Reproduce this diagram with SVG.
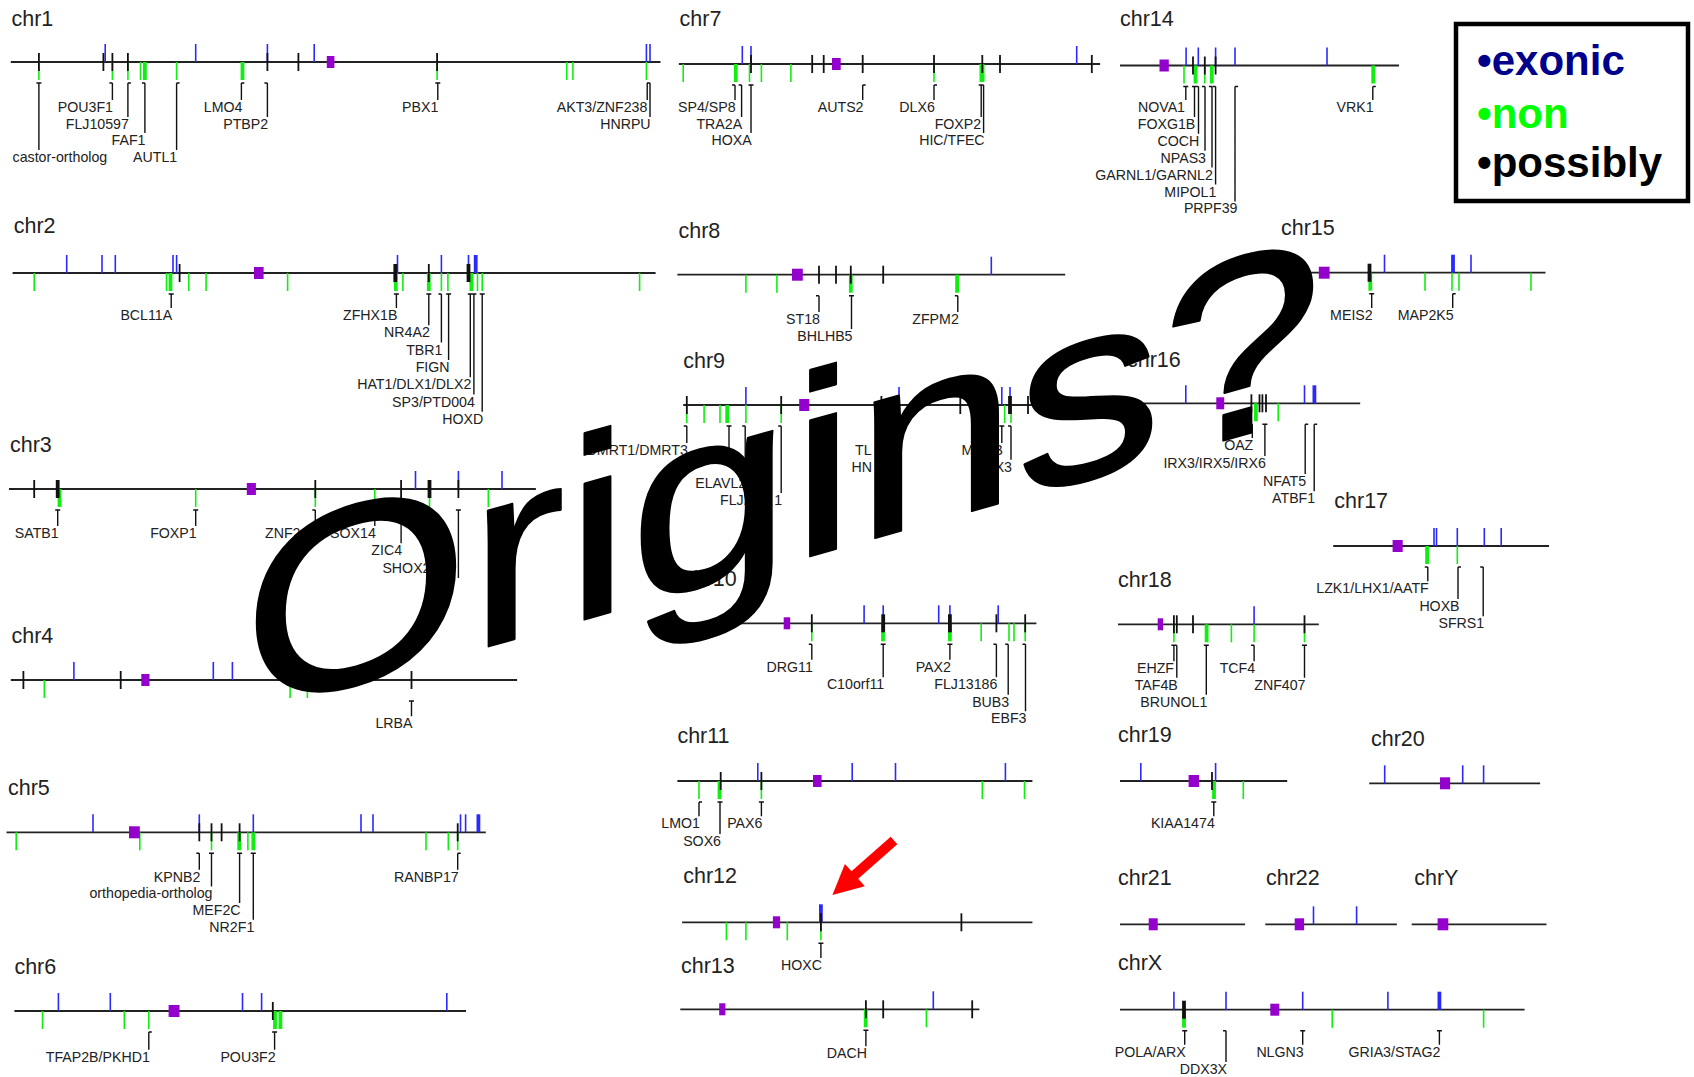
<svg xmlns="http://www.w3.org/2000/svg" width="1694" height="1077" viewBox="0 0 1694 1077">
<style>
.ax{stroke:#222;stroke-width:1.8}
g.e{stroke:#2a2aff;stroke-width:1.6}
g.n{stroke:#11ee11;stroke-width:1.6}
g.p{stroke:#111;stroke-width:1.8}
use.w{stroke-width:3.8}
.cm{fill:#9400cc}
.cn{stroke:#111;stroke-width:1.4;fill:none}
text{font-family:"Liberation Sans",Arial,Helvetica,sans-serif}
.t{font-size:21.5px;fill:#222}
.l{font-size:14.2px;fill:#222;text-anchor:end}
.s{text-anchor:start}
.big{font-size:257px;fill:#000;stroke:#000;stroke-width:2.2;stroke-linejoin:round}
.lg{font-size:42px;font-weight:bold}
</style>
<defs>
<path id="e" d="M0-18V0"/>
<path id="n" d="M0 0V18"/>
<path id="p" d="M0-9V9"/>
</defs>
<rect width="1694" height="1077" fill="#fff"/>

<g id="chromosomes">
<!-- chr1 -->
<g id="chr1" transform="translate(0,62)">
<text class="t" x="11.5" y="-36">chr1</text>
<line class="ax" x1="10.8" x2="660.5"/>
<g class="n"><use href="#n" x="38.9"/><use href="#n" x="112.4"/><use href="#n" x="127.9"/><use href="#n" x="140.5"/><use href="#n" x="176.6"/><use href="#n" x="437.1"/><use href="#n" x="566.8"/><use href="#n" x="572.9"/><use href="#n" x="646.4"/><use class="w" href="#n" x="144.9"/><use class="w" href="#n" x="242.5"/></g>
<g class="e"><use href="#e" x="105.2"/><use href="#e" x="195.7"/><use href="#e" x="267.4"/><use href="#e" x="314.2"/><use href="#e" x="646.4"/><use href="#e" x="650"/></g>
<g class="p"><use href="#p" x="38.9"/><use href="#p" x="103.4"/><use href="#p" x="112.4"/><use href="#p" x="127.9"/><use href="#p" x="267.4"/><use href="#p" x="298.4"/><use href="#p" x="437.1"/></g>
<rect class="cm" x="326.8" y="-6" width="7.6" height="12"/>
<text class="l s" x="12.6" y="100">castor-ortholog</text>
<text class="l" x="113" y="50">POU3F1</text>
<text class="l" x="128.9" y="67">FLJ10597</text>
<text class="l" x="145.5" y="83">FAF1</text>
<text class="l" x="177.2" y="100">AUTL1</text>
<text class="l" x="242.4" y="50">LMO4</text>
<text class="l" x="268.2" y="67">PTBP2</text>
<text class="l" x="438.4" y="50">PBX1</text>
<text class="l" x="647.4" y="50">AKT3/ZNF238</text>
<text class="l" x="650.6" y="67">HNRPU</text>
</g>

<!-- chr7 -->
<g id="chr7" transform="translate(0,64)">
<text class="t" x="679.6" y="-38">chr7</text>
<line class="ax" x1="678.9" x2="1100.1"/>
<g class="n"><use href="#n" x="683.2"/><use href="#n" x="749.5"/><use href="#n" x="761.4"/><use href="#n" x="790.9"/><use href="#n" x="934"/><use class="w" href="#n" x="735.8"/><use class="w" href="#n" x="982" style="stroke-width:5"/></g>
<g class="e"><use href="#e" x="742.3"/><use href="#e" x="751"/><use href="#e" x="1076.7"/></g>
<g class="p"><use href="#p" x="751"/><use href="#p" x="812.2"/><use href="#p" x="823.7"/><use href="#p" x="862.7"/><use href="#p" x="934"/><use href="#p" x="982.3"/><use href="#p" x="1000"/><use href="#p" x="1091.8"/></g>
<rect class="cm" x="832" y="-6" width="8.7" height="12"/>
<text class="l" x="735.6" y="48">SP4/SP8</text>
<text class="l" x="742.2" y="65">TRA2A</text>
<text class="l" x="751.8" y="81">HOXA</text>
<text class="l" x="863.5" y="48">AUTS2</text>
<text class="l" x="934.8" y="48">DLX6</text>
<text class="l" x="981.2" y="65">FOXP2</text>
<text class="l" x="984.6" y="81">HIC/TFEC</text>
</g>

<!-- chr14 -->
<g id="chr14" transform="translate(0,65.5)">
<text class="t" x="1120" y="-39.5">chr14</text>
<line class="ax" x1="1120" x2="1399"/>
<g class="n"><use href="#n" x="1184"/><use href="#n" x="1204.8"/><use class="w" href="#n" x="1195.5"/><use class="w" href="#n" x="1211.8"/><use class="w" href="#n" x="1373.2"/></g>
<g class="e"><use href="#e" x="1186.1"/><use href="#e" x="1198.3"/><use href="#e" x="1215.6"/><use href="#e" x="1235"/><use href="#e" x="1327"/></g>
<g class="p"><use href="#p" x="1193"/><use href="#p" x="1204.8"/><use href="#p" x="1215.6"/></g>
<rect class="cm" x="1159.5" y="-6" width="9.3" height="12"/>
<text class="l" x="1185" y="46.5">NOVA1</text>
<text class="l" x="1195.3" y="63.4">FOXG1B</text>
<text class="l" x="1199.2" y="80.3">COCH</text>
<text class="l" x="1206" y="97.2">NPAS3</text>
<text class="l" x="1212.8" y="114.1">GARNL1/GARNL2</text>
<text class="l" x="1216.4" y="131">MIPOL1</text>
<text class="l" x="1237.5" y="147.9">PRPF39</text>
<text class="l" x="1373.6" y="46.5">VRK1</text>
</g>

<!-- chr2 -->
<g id="chr2" transform="translate(0,273)">
<text class="t" x="13.7" y="-40">chr2</text>
<line class="ax" x1="12.6" x2="655.6"/>
<g class="n"><use href="#n" x="34.2"/><use href="#n" x="166.5"/><use href="#n" x="188.8"/><use href="#n" x="206.1"/><use href="#n" x="287.6"/><use href="#n" x="402.9"/><use href="#n" x="441.4"/><use href="#n" x="447.9"/><use href="#n" x="477.5"/><use href="#n" x="482.2"/><use href="#n" x="639.6"/><use class="w" href="#n" x="170.5"/><use class="w" href="#n" x="395.8"/><use class="w" href="#n" x="428.8"/><use class="w" href="#n" x="471.4"/></g>
<g class="e"><use href="#e" x="66.7"/><use href="#e" x="102"/><use href="#e" x="115.3"/><use href="#e" x="173"/><use href="#e" x="176.6"/><use href="#e" x="397.5"/><use href="#e" x="441.4"/><use href="#e" x="468.5"/><use class="w" href="#e" x="475.7"/></g>
<g class="p"><use href="#p" x="179.6"/><use href="#p" x="428.8"/><use class="w" href="#p" x="395.3"/><use class="w" href="#p" x="468.5"/></g>
<rect class="cm" x="254" y="-6" width="9.6" height="12"/>
<text class="l" x="172.2" y="47">BCL11A</text>
<text class="l" x="397.4" y="47">ZFHX1B</text>
<text class="l" x="429.8" y="64.3">NR4A2</text>
<text class="l" x="442.4" y="81.6">TBR1</text>
<text class="l" x="449.6" y="98.9">FIGN</text>
<text class="l" x="471.3" y="116.2">HAT1/DLX1/DLX2</text>
<text class="l" x="474.9" y="133.5">SP3/PTD004</text>
<text class="l" x="483.2" y="150.8">HOXD</text>
</g>

<!-- chr3 -->
<g id="chr3" transform="translate(0,489)">
<text class="t" x="10" y="-37.3">chr3</text>
<line class="ax" x1="9" x2="535.9"/>
<g class="n"><use href="#n" x="195.7"/><use href="#n" x="315.3"/><use href="#n" x="374.8"/><use href="#n" x="429.5"/><use href="#n" x="488.3"/><use class="w" href="#n" x="59.5"/></g>
<g class="e"><use href="#e" x="415.5"/><use href="#e" x="458.4"/><use href="#e" x="502"/></g>
<g class="p"><use href="#p" x="34.2"/><use href="#p" x="315.3"/><use href="#p" x="401.1"/><use href="#p" x="458.4"/><use class="w" href="#p" x="57.7"/><use class="w" href="#p" x="429.5"/></g>
<rect class="cm" x="246.8" y="-6" width="9.1" height="12"/>
<text class="l" x="58.7" y="49">SATB1</text>
<text class="l" x="196.7" y="49">FOXP1</text>
<text class="l s" x="265" y="49">ZNF2</text>
<text class="l" x="375.8" y="49">SOX14</text>
<text class="l" x="402.1" y="66.3">ZIC4</text>
<text class="l" x="430.5" y="83.6">SHOX2</text>
</g>

<!-- chr4 -->
<g id="chr4" transform="translate(0,680)">
<text class="t" x="11.5" y="-37.3">chr4</text>
<line class="ax" x1="10.8" x2="517.1"/>
<g class="n"><use href="#n" x="44.3"/><use href="#n" x="290.1"/><use href="#n" x="307.4"/></g>
<g class="e"><use href="#e" x="73.9"/><use href="#e" x="213.3"/><use href="#e" x="232.4"/></g>
<g class="p"><use href="#p" x="23.4"/><use href="#p" x="120.7"/><use href="#p" x="411.5"/></g>
<rect class="cm" x="141.3" y="-6" width="8.2" height="12"/>
<text class="l" x="412.5" y="48.3">LRBA</text>
</g>

<!-- chr5 -->
<g id="chr5" transform="translate(0,832.3)">
<text class="t" x="8" y="-37.3">chr5</text>
<line class="ax" x1="6.5" x2="485.8"/>
<g class="n"><use href="#n" x="16.2"/><use href="#n" x="139.8"/><use href="#n" x="211.5"/><use href="#n" x="247.9"/><use href="#n" x="426"/><use href="#n" x="448.3"/><use href="#n" x="457.7"/><use class="w" href="#n" x="239.2"/><use class="w" href="#n" x="253.3"/></g>
<g class="e"><use href="#e" x="93"/><use href="#e" x="199.3"/><use href="#e" x="253.3"/><use href="#e" x="361"/><use href="#e" x="373"/><use href="#e" x="460.5"/><use href="#e" x="465.6"/><use class="w" href="#e" x="478.4"/></g>
<g class="p"><use href="#p" x="199.3"/><use href="#p" x="211.5"/><use href="#p" x="221.6"/><use href="#p" x="239.6"/><use href="#p" x="457.7"/></g>
<rect class="cm" x="129" y="-6" width="10.8" height="12"/>
<text class="l" x="200.3" y="49.4">KPNB2</text>
<text class="l" x="212.5" y="66.1">orthopedia-ortholog</text>
<text class="l" x="240.6" y="82.8">MEF2C</text>
<text class="l" x="254.3" y="99.5">NR2F1</text>
<text class="l" x="458.7" y="49.4">RANBP17</text>
</g>

<!-- chr6 -->
<g id="chr6" transform="translate(0,1011)">
<text class="t" x="14.4" y="-36.7">chr6</text>
<line class="ax" x1="14.4" x2="466"/>
<g class="n"><use href="#n" x="42.5"/><use href="#n" x="124.3"/><use href="#n" x="148.8"/><use class="w" href="#n" x="275"/><use class="w" href="#n" x="280.4"/></g>
<g class="e"><use href="#e" x="58.4"/><use href="#e" x="110.3"/><use href="#e" x="242.5"/><use href="#e" x="261.6"/><use href="#e" x="446.8"/></g>
<g class="p"><use href="#p" x="272.8"/></g>
<rect class="cm" x="168.6" y="-6" width="10.9" height="12"/>
<text class="l" x="149.8" y="50.7">TFAP2B/PKHD1</text>
<text class="l" x="275.6" y="50.7">POU3F2</text>
</g>

<!-- chr8 -->
<g id="chr8" transform="translate(0,274.7)">
<text class="t" x="678.5" y="-36.4">chr8</text>
<line class="ax" x1="677.4" x2="1065.2"/>
<g class="n"><use href="#n" x="745.9"/><use href="#n" x="776.9"/><use class="w" href="#n" x="850.8"/><use class="w" href="#n" x="957.1"/></g>
<g class="e"><use href="#e" x="991.3"/></g>
<g class="p"><use href="#p" x="819"/><use href="#p" x="836"/><use href="#p" x="850.8"/><use href="#p" x="883.2"/></g>
<rect class="cm" x="792" y="-6" width="10.8" height="12"/>
<text class="l" x="820" y="49.3">ST18</text>
<text class="l" x="852.5" y="66.3">BHLHB5</text>
<text class="l" x="958.8" y="49.3">ZFPM2</text>
</g>

<!-- chr9 -->
<g id="chr9" transform="translate(0,405)">
<text class="t" x="683.2" y="-36.7">chr9</text>
<line class="ax" x1="683.2" x2="1100"/>
<g class="n"><use href="#n" x="686.8"/><use href="#n" x="704.1"/><use href="#n" x="720"/><use href="#n" x="745.9"/><use href="#n" x="781.2"/><use href="#n" x="1004.6"/><use href="#n" x="1011"/><use class="w" href="#n" x="727.2"/></g>
<g class="e"><use href="#e" x="745.9"/><use href="#e" x="899"/><use href="#e" x="1001.8"/><use href="#e" x="1010"/></g>
<g class="p"><use href="#p" x="686.8"/><use href="#p" x="781.2"/><use href="#p" x="881.4"/><use href="#p" x="960.3"/><use href="#p" x="1028"/><use class="w" href="#p" x="1010"/></g>
<rect class="cm" x="799.2" y="-6" width="10.1" height="12"/>
<text class="l" x="687.8" y="50">DMRT1/DMRT3</text>
<text class="l" x="746.2" y="83.4">ELAVL2</text>
<text class="l s" x="720" y="100.1">FLJ2</text>
<text class="l" x="782.2" y="100.1">1</text>
<text class="l s" x="855" y="50">TL</text>
<text class="l s" x="851.5" y="66.7">HN</text>
<text class="l s" x="961.4" y="50">M</text>
<text class="l" x="1003" y="50">B</text>
<text class="l" x="1012" y="66.7">X3</text>
</g>

<!-- chr16 -->
<g id="chr16" transform="translate(0,403.3)">
<text class="t" x="1127" y="-36.6">chr16</text>
<line class="ax" x1="1120" x2="1360.2"/>
<g class="n"><use href="#n" x="1278.2"/><use class="w" href="#n" x="1255.9"/></g>
<g class="e"><use href="#e" x="1185.8"/><use href="#e" x="1304.5"/><use class="w" href="#e" x="1314.4"/></g>
<g class="p"><use href="#p" x="1251.4"/><use href="#p" x="1259.5"/><use href="#p" x="1262.4"/><use href="#p" x="1266"/></g>
<rect class="cm" x="1216.3" y="-6" width="7.9" height="12"/>
<text class="l" x="1253.3" y="46.7">OAZ</text>
<text class="l" x="1265.9" y="64.7">IRX3/IRX5/IRX6</text>
<text class="l" x="1306.2" y="82.7">NFAT5</text>
<text class="l" x="1315.2" y="100">ATBF1</text>
</g>

<!-- chr15 -->
<g id="chr15" transform="translate(0,272.7)">
<text class="t" x="1281" y="-37.7">chr15</text>
<line class="ax" x1="1281" x2="1545.5"/>
<g class="n"><use href="#n" x="1425"/><use href="#n" x="1452"/><use href="#n" x="1459"/><use href="#n" x="1531"/><use class="w" href="#n" x="1370.3"/></g>
<g class="e"><use href="#e" x="1384.5"/><use href="#e" x="1471"/><use class="w" href="#e" x="1453"/></g>
<g class="p"><use class="w" href="#p" x="1369.5"/></g>
<rect class="cm" x="1318.8" y="-6" width="10.8" height="12"/>
<text class="l" x="1372.7" y="47.3">MEIS2</text>
<text class="l" x="1453.7" y="47.3">MAP2K5</text>
</g>

<!-- chr17 -->
<g id="chr17" transform="translate(0,546)">
<text class="t" x="1334.3" y="-37.7">chr17</text>
<line class="ax" x1="1333.2" x2="1549"/>
<g class="n"><use href="#n" x="1457.3"/><use class="w" href="#n" x="1427.1"/></g>
<g class="e"><use href="#e" x="1434"/><use href="#e" x="1436.5"/><use href="#e" x="1457.3"/><use href="#e" x="1484.3"/><use href="#e" x="1501.2"/></g>
<rect class="cm" x="1392.6" y="-6" width="10.1" height="12"/>
<text class="l" x="1428.8" y="47.3">LZK1/LHX1/AATF</text>
<text class="l" x="1459.6" y="65">HOXB</text>
<text class="l" x="1484.2" y="82.3">SFRS1</text>
</g>

<!-- chr10 -->
<g id="chr10" transform="translate(0,623.3)">
<text class="t" x="683" y="-37">chr10</text>
<line class="ax" x1="680" x2="1036.4"/>
<g class="n"><use href="#n" x="811.8"/><use href="#n" x="981.2"/><use href="#n" x="1009"/><use href="#n" x="1014"/><use href="#n" x="1025.2"/><use class="w" href="#n" x="883"/><use class="w" href="#n" x="949.9"/></g>
<g class="e"><use href="#e" x="864.1"/><use href="#e" x="883.2"/><use href="#e" x="938.7"/><use href="#e" x="949.9"/><use href="#e" x="998.2"/></g>
<g class="p"><use href="#p" x="811.8"/><use href="#p" x="996.4"/><use href="#p" x="1025.2"/><use class="w" href="#p" x="883.2"/><use class="w" href="#p" x="949.9"/></g>
<rect class="cm" x="783.7" y="-6" width="6.5" height="12"/>
<text class="l" x="812.8" y="48.4">DRG11</text>
<text class="l" x="884.2" y="66">C10orf11</text>
<text class="l" x="950.9" y="48.4">PAX2</text>
<text class="l" x="997.4" y="66">FLJ13186</text>
<text class="l" x="1009.2" y="83.4">BUB3</text>
<text class="l" x="1026.5" y="100">EBF3</text>
</g>

<!-- chr11 -->
<g id="chr11" transform="translate(0,781)">
<text class="t" x="677.4" y="-38.3">chr11</text>
<line class="ax" x1="677.4" x2="1032.4"/>
<g class="n"><use href="#n" x="699"/><use href="#n" x="761.4"/><use href="#n" x="982.3"/><use href="#n" x="1024.5"/><use class="w" href="#n" x="719.5"/></g>
<g class="e"><use href="#e" x="757.8"/><use href="#e" x="852.2"/><use href="#e" x="895.5"/><use href="#e" x="1005.4"/></g>
<g class="p"><use href="#p" x="720.7"/><use href="#p" x="761.4"/></g>
<rect class="cm" x="813" y="-6" width="8.6" height="12"/>
<text class="l" x="700" y="47.3">LMO1</text>
<text class="l" x="721" y="65">SOX6</text>
<text class="l" x="762.4" y="47.3">PAX6</text>
</g>

<!-- chr12 -->
<g id="chr12" transform="translate(0,922.3)">
<text class="t" x="683.2" y="-39">chr12</text>
<line class="ax" x1="682.1" x2="1032.4"/>
<g class="n"><use href="#n" x="726.4"/><use href="#n" x="745.9"/><use href="#n" x="787.3"/><use href="#n" x="820.9"/></g>
<g class="e"><use class="w" href="#e" x="820.9"/></g>
<g class="p"><use href="#p" x="820.9"/><use href="#p" x="961.4"/></g>
<rect class="cm" x="772.9" y="-6" width="7.2" height="12"/>
<text class="l" x="821.9" y="47.7">HOXC</text>
</g>

<!-- chr13 -->
<g id="chr13" transform="translate(0,1009.3)">
<text class="t" x="681" y="-36.6">chr13</text>
<line class="ax" x1="680.3" x2="979.4"/>
<g class="n"><use href="#n" x="926.4"/><use class="w" href="#n" x="865.7"/></g>
<g class="e"><use href="#e" x="933.3"/></g>
<g class="p"><use href="#p" x="865.9"/><use href="#p" x="883.2"/><use href="#p" x="972.2"/></g>
<rect class="cm" x="719.2" y="-6" width="6.2" height="12"/>
<text class="l" x="866.9" y="49">DACH</text>
</g>

<!-- chr18 -->
<g id="chr18" transform="translate(0,624.3)">
<text class="t" x="1118" y="-37.6">chr18</text>
<line class="ax" x1="1118" x2="1318.8"/>
<g class="n"><use href="#n" x="1173.9"/><use href="#n" x="1231.4"/><use href="#n" x="1254.1"/><use href="#n" x="1304.5"/><use class="w" href="#n" x="1206.6"/></g>
<g class="e"><use href="#e" x="1254.1"/></g>
<g class="p"><use href="#p" x="1173.9"/><use href="#p" x="1176.8"/><use href="#p" x="1193"/><use href="#p" x="1304.5"/></g>
<rect class="cm" x="1157.7" y="-6" width="5.4" height="12"/>
<text class="l" x="1174" y="49">EHZF</text>
<text class="l" x="1177.8" y="65.5">TAF4B</text>
<text class="l" x="1207.3" y="82.4">BRUNOL1</text>
<text class="l" x="1255.1" y="49">TCF4</text>
<text class="l" x="1305.5" y="65.5">ZNF407</text>
</g>

<!-- chr19 -->
<g id="chr19" transform="translate(0,781)">
<text class="t" x="1118" y="-39.3">chr19</text>
<line class="ax" x1="1120" x2="1287.2"/>
<g class="n"><use href="#n" x="1243.3"/><use class="w" href="#n" x="1214"/></g>
<g class="e"><use href="#e" x="1140.8"/><use href="#e" x="1215.6"/></g>
<g class="p"><use href="#p" x="1212"/></g>
<rect class="cm" x="1188.6" y="-6" width="10.5" height="12"/>
<text class="l" x="1214.8" y="47.3">KIAA1474</text>
</g>

<!-- chr20 -->
<g id="chr20" transform="translate(0,783.3)">
<text class="t" x="1371" y="-37.3">chr20</text>
<line class="ax" x1="1369.2" x2="1540.1"/>
<g class="e"><use href="#e" x="1384.7"/><use href="#e" x="1462.7"/><use href="#e" x="1483.6"/></g>
<rect class="cm" x="1440" y="-6" width="10.1" height="12"/>
</g>

<!-- chr21 -->
<g id="chr21" transform="translate(0,924.3)">
<text class="t" x="1118" y="-39.3">chr21</text>
<line class="ax" x1="1120" x2="1245.1"/>
<rect class="cm" x="1148.7" y="-6" width="9" height="12"/>
</g>

<!-- chr22 -->
<g id="chr22" transform="translate(0,924.3)">
<text class="t" x="1266" y="-39.3">chr22</text>
<line class="ax" x1="1265.3" x2="1396.9"/>
<g class="e"><use href="#e" x="1313.5"/><use href="#e" x="1356.6"/></g>
<rect class="cm" x="1294.7" y="-6" width="9.4" height="12"/>
</g>

<!-- chrY -->
<g id="chrY" transform="translate(0,924.3)">
<text class="t" x="1414.2" y="-39.3">chrY</text>
<line class="ax" x1="1411.7" x2="1546.5"/>
<rect class="cm" x="1437.6" y="-6" width="10.7" height="12"/>
</g>

<!-- chrX -->
<g id="chrX" transform="translate(0,1009.7)">
<text class="t" x="1118" y="-39.7">chrX</text>
<line class="ax" x1="1120" x2="1524.6"/>
<g class="n"><use href="#n" x="1332.2"/><use href="#n" x="1483.6"/><use class="w" href="#n" x="1184"/></g>
<g class="e"><use href="#e" x="1173.9"/><use href="#e" x="1226"/><use href="#e" x="1302.7"/><use href="#e" x="1387.9"/><use class="w" href="#e" x="1439.4"/></g>
<g class="p"><use class="w" href="#p" x="1184"/></g>
<rect class="cm" x="1270.3" y="-6" width="9" height="12"/>
<text class="l" x="1185.7" y="47">POLA/ARX</text>
<text class="l" x="1227" y="64.3">DDX3X</text>
<text class="l" x="1303.7" y="47">NLGN3</text>
<text class="l" x="1440.4" y="47">GRIA3/STAG2</text>
</g>
</g>

<!-- gene label leader lines, one path per chromosome -->
<g id="connectors" class="cn">
<path transform="translate(0,62)" d="M38.9 21V88M36.4 21h5M112.4 21V38M109.4 21h3M127.9 21V55M127.9 21h3M144.9 21V71M141.9 21h3M176.6 21V88M176.6 21h3M241.4 21V38M241.4 21h3M267.4 21V55M264.4 21h3M437.8 21V38M435.3 21h5M647.2 21V38M647.2 21h3M650 21V55M647 21h3"/>
<path transform="translate(0,64)" d="M735 21V36M732 21h3M741.6 21V53M738.6 21h3M751 21V69M748.5 21h5M862.7 21V36M862.7 21h3M934 21V36M934 21h3M981.2 21V53M978.7 21h5M983.6 21V69"/>
<path transform="translate(0,65.5)" d="M1185.8 21V34.5M1183.3 21h5M1194.5 21V51.4M1192 21h5M1198.5 21V68.3M1195.5 21h3M1205 21V85.2M1202 21h3M1212 21V102.1M1209 21h3M1215.6 21V119M1212.6 21h3M1235 21V135.9M1235 21h3M1372.8 21V34.5M1372.8 21h3"/>
<path transform="translate(0,273)" d="M171.2 21V35M168.7 21h5M396.4 21V35M393.9 21h5M428.8 21V52.3M426.3 21h5M441.4 21V69.6M438.4 21h3M448.6 21V86.9M446.1 21h5M470.3 21V104.2M467.8 21h5M473.9 21V121.5M471.4 21h5M482.2 21V138.8M479.7 21h5"/>
<path transform="translate(0,489)" d="M57.7 21V37M55.2 21h5M195.7 21V37M193.2 21h5M315.3 21V37M312.3 21h3M374.8 21V37M371.8 21h3M401.1 21V54.3M398.1 21h3M429.5 21V71.6M427 21h5M458.4 21V88.9M455.9 21h5"/>
<path transform="translate(0,680)" d="M411.5 21V36.3M409 21h5"/>
<path transform="translate(0,832.3)" d="M199.3 21V37.4M196.3 21h3M211.5 21V54.1M209 21h5M239.6 21V70.8M237.1 21h5M253.3 21V87.5M250.8 21h5M457.7 21V37.4M457.7 21h3"/>
<path transform="translate(0,1011)" d="M148.8 21V38.7M148.8 21h3M274.6 21V38.7M272.1 21h5"/>
<path transform="translate(0,274.7)" d="M819 21V37.3M816 21h3M851.5 21V54.3M849 21h5M957.8 21V37.3M954.8 21h3"/>
<path transform="translate(0,405)" d="M686.8 21V38M683.8 21h3M729 21V54.7M726.5 21h5M745.2 21V71.4M742.2 21h3M781.2 21V88.1M778.2 21h3M1001.8 21V38M999.3 21h5M1011 21V54.7M1008 21h3"/>
<path transform="translate(0,403.3)" d="M1252.3 21V34.7M1249.3 21h3M1264.9 21V52.7M1262.4 21h5M1305.2 21V70.7M1305.2 21h3M1314.2 21V88M1314.2 21h3"/>
<path transform="translate(0,272.7)" d="M1371.7 21V35.3M1369.2 21h5M1452.7 21V35.3M1452.7 21h3"/>
<path transform="translate(0,546)" d="M1427.8 21V35.3M1424.8 21h3M1458 21V53M1458 21h3M1483.2 21V70.3M1480.2 21h3"/>
<path transform="translate(0,623.3)" d="M811.8 21V36.4M808.8 21h3M883.2 21V54M880.7 21h5M949.9 21V36.4M947.4 21h5M996.4 21V54M993.4 21h3M1008.2 21V71.4M1005.2 21h3M1025.5 21V88M1022.5 21h3"/>
<path transform="translate(0,781)" d="M699 21V35.3M699 21h3M720 21V53M717.5 21h5M761.4 21V35.3M758.9 21h5"/>
<path transform="translate(0,922.3)" d="M820.9 21V35.7M818.4 21h5"/>
<path transform="translate(0,1009.3)" d="M865.9 21V37M863.4 21h5"/>
<path transform="translate(0,624.3)" d="M1173.9 21V37M1171.4 21h5M1176.8 21V53.5M1173.8 21h3M1206.3 21V70.4M1203.8 21h5M1254.1 21V37M1251.1 21h3M1304.5 21V53.5M1302 21h5"/>
<path transform="translate(0,781)" d="M1213.8 21V35.3M1211.3 21h5"/>
<path transform="translate(0,1009.7)" d="M1184.7 21V35M1182.2 21h5M1226 21V52.3M1223 21h3M1302.7 21V35M1300.2 21h5M1439.4 21V35M1436.9 21h5"/>
</g>

<!-- sheared title drawn over the map -->
<g id="title">
<text class="big" transform="matrix(1.128 -0.316 0 1 243.3 715)">Origins?</text>
</g>

<!-- pointer to HOXC -->
<g id="arrow">
<polygon fill="#ff0000" points="897.3,844.2 858.2,878.8 864.8,886.3 832.4,895 844.9,863.9 851.5,871.3 890.7,836.8"/>
</g>

<!-- key -->
<g id="legend">
<rect x="1456" y="24" width="232" height="177" fill="#fff" stroke="#000" stroke-width="4.5"/>
<text class="lg" x="1477" y="75" fill="#00008b">•exonic</text>
<text class="lg" x="1477" y="128" fill="#00ff00">•non</text>
<text class="lg" x="1477" y="177" fill="#000">•possibly</text>
</g>
</svg>
